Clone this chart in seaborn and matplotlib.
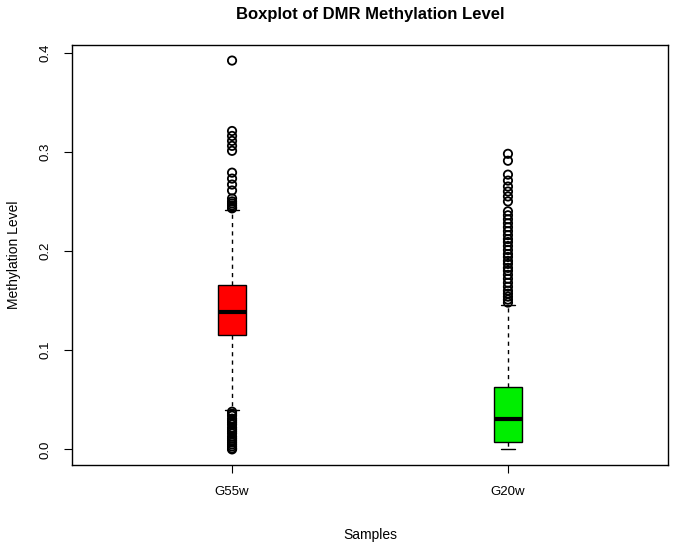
import matplotlib
matplotlib.use("Agg")
import matplotlib.pyplot as plt
import seaborn as sns
import pandas as pd

# box summary
samples = ["G55w", "G20w"]
q1 = [0.115, 0.007]
medians = [0.139, 0.031]
q3 = [0.166, 0.063]
whisker_lo = [0.040, 0.000]
whisker_hi = [0.241, 0.146]

g55w_outliers = [0.392, 0.321, 0.316, 0.311, 0.306, 0.301, 0.279, 0.273, 0.267, 0.261,
                 0.253, 0.250, 0.248, 0.246, 0.244, 0.243,
                 0.038, 0.036, 0.034, 0.031, 0.029, 0.027, 0.025, 0.022, 0.020, 0.018,
                 0.016, 0.013, 0.011, 0.009, 0.007, 0.005, 0.003, 0.001, 0.000]
g20w_outliers = [0.298, 0.291, 0.277, 0.271, 0.265, 0.260, 0.255, 0.250, 0.240, 0.236,
                 0.232, 0.228, 0.224, 0.220, 0.216, 0.212, 0.209, 0.205, 0.201, 0.197,
                 0.194, 0.190, 0.187, 0.183, 0.180, 0.176, 0.172, 0.168, 0.164, 0.160,
                 0.157, 0.154, 0.151, 0.148]

box_colors = ["#ff0000", "#00ee00"]

sns.set_style("white")
plt.rcParams["font.family"] = ["Liberation Sans", "DejaVu Sans"]
plt.rcParams["text.color"] = "black"
plt.rcParams["axes.labelcolor"] = "black"
plt.rcParams["xtick.color"] = "black"
plt.rcParams["ytick.color"] = "black"

fig = plt.figure(figsize=(6.75, 5.46), dpi=100)
ax = fig.add_axes([0.1067, 0.1484, 0.8829, 0.7692])

stats = []
for i in range(len(samples)):
    stats.append(dict(label=samples[i], q1=q1[i], med=medians[i], q3=q3[i],
                      whislo=whisker_lo[i], whishi=whisker_hi[i], fliers=[]))

bp = ax.bxp(stats, positions=[1, 2], widths=0.1, patch_artist=True, showfliers=False,
            boxprops=dict(edgecolor="black", linewidth=1.0),
            medianprops=dict(color="black", linewidth=3),
            whiskerprops=dict(color="black", linewidth=1.0, linestyle=(0, (3, 3))),
            capprops=dict(color="black", linewidth=1.0))
for patch, c in zip(bp["boxes"], box_colors):
    patch.set_facecolor(c)
for cap in bp["caps"]:
    x0, x1 = cap.get_xdata()
    mid = (x0 + x1) / 2
    cap.set_xdata([mid - 0.025, mid + 0.025])

out_df = pd.DataFrame({
    "pos": [1] * len(g55w_outliers) + [2] * len(g20w_outliers),
    "value": g55w_outliers + g20w_outliers,
})
sns.scatterplot(data=out_df, x="pos", y="value", ax=ax, s=36, marker="o",
                facecolors="none", edgecolor="black", linewidth=1.3, zorder=3,
                legend=False)

ax.set_xlim(0.42, 2.58)
ax.set_ylim(-0.0157, 0.4077)
ax.set_xticks([1, 2])
ax.set_xticklabels(samples, fontsize=9.5)
ax.set_yticks([0.0, 0.1, 0.2, 0.3, 0.4])
ax.set_yticklabels(["0.0", "0.1", "0.2", "0.3", "0.4"], fontsize=9.5, rotation=90, va="center")
ax.tick_params(axis="both", length=6, width=0.8, color="black", direction="out",
               bottom=True, left=True, pad=9)
for s in ax.spines.values():
    s.set_color("black")
    s.set_linewidth(1.0)

ax.set_xlabel("Samples", fontsize=10, labelpad=22)
ax.set_ylabel("Methylation Level", fontsize=10, labelpad=13)
ax.set_title("Boxplot of DMR Methylation Level", fontsize=12, fontweight="bold", pad=19)

fig.savefig("out.png", dpi=100)
